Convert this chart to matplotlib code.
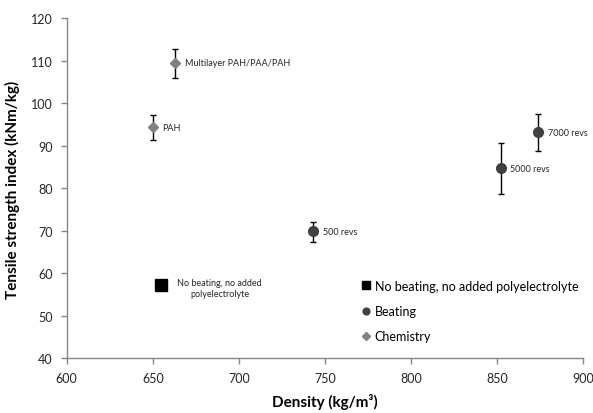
import numpy as np
import matplotlib
matplotlib.use('Agg')
import matplotlib.pyplot as plt

plt.rcParams['font.family'] = ['Lato', 'DejaVu Sans']

# data
base_x = [655]
base_y = [57.2]

beat_x = [743, 852, 874]
beat_y = [69.9, 84.7, 93.2]
beat_err_lo = [2.6, 6.1, 4.3]
beat_err_hi = [2.3, 6.0, 4.2]
beat_labels = ['500 revs', '5000 revs', '7000 revs']

chem_x = [650, 663]
chem_y = [94.4, 109.6]
chem_err_lo = [2.9, 3.6]
chem_err_hi = [2.8, 3.3]
chem_labels = ['PAH', 'Multilayer PAH/PAA/PAH']

grey = '#868686'

fig = plt.figure(figsize=(5.93, 4.14), dpi=100)
ax = fig.add_axes([0.1125, 0.132, 0.871, 0.821])

ax.errorbar(beat_x, beat_y, yerr=[beat_err_lo, beat_err_hi], fmt='none',
            ecolor='black', elinewidth=1.0, capsize=2.5, capthick=1.0, zorder=2)
ax.errorbar(chem_x, chem_y, yerr=[chem_err_lo, chem_err_hi], fmt='none',
            ecolor='black', elinewidth=1.0, capsize=2.5, capthick=1.0, zorder=2)

ax.plot(base_x, base_y, 's', color='black', markersize=8.5, linestyle='none',
        label='No beating, no added polyelectrolyte', zorder=3)
ax.plot(beat_x, beat_y, 'o', color='#404040', markersize=7, linestyle='none',
        label='Beating', zorder=3)
ax.plot(chem_x, chem_y, 'D', color='#808080', markersize=5.5, linestyle='none',
        label='Chemistry', zorder=3)

for x, y, t in zip(beat_x, beat_y, beat_labels):
    ax.annotate(t, (x, y), xytext=(7, 0), textcoords='offset points',
                fontsize=6.5, va='center', ha='left', color='#262626')
for x, y, t in zip(chem_x, chem_y, chem_labels):
    ax.annotate(t, (x, y), xytext=(7, 0), textcoords='offset points',
                fontsize=6.5, va='center', ha='left', color='#262626')
ax.annotate('No beating, no added\npolyelectrolyte', (base_x[0], base_y[0]),
            xytext=(42, -2), textcoords='offset points', fontsize=6.5,
            va='center', ha='center', multialignment='center', color='#262626',
            linespacing=1.3)

ax.set_xlim(600, 900)
ax.set_ylim(40, 120)
ax.set_xticks(np.arange(600, 901, 50))
ax.set_yticks(np.arange(40, 121, 10))

for s in ['top', 'right']:
    ax.spines[s].set_visible(False)
for s in ['left', 'bottom']:
    ax.spines[s].set_color(grey)
    ax.spines[s].set_linewidth(1.0)
ax.tick_params(axis='both', direction='out', length=4, width=1.0, color=grey,
               labelsize=9, labelcolor='#262626', pad=6)

ax.set_xlabel('Density (kg/m³)', fontsize=11, fontweight='bold', labelpad=6)
ax.set_ylabel('Tensile strength index (kNm/kg)', fontsize=11, fontweight='bold',
              labelpad=8)

leg = ax.legend(loc='lower left', bbox_to_anchor=(0.55, 0.015), frameon=False,
                fontsize=9, handlelength=0.6, handletextpad=0.4,
                labelspacing=1.05, markerscale=0.7)

fig.savefig('out.png', dpi=100)
